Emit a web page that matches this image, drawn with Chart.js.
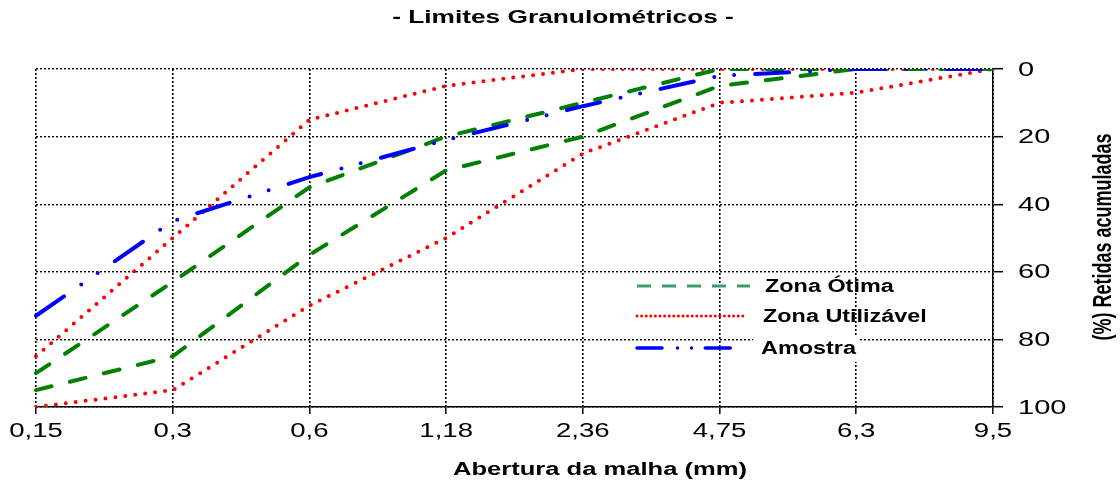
<!DOCTYPE html>
<html>
<head>
<meta charset="utf-8">
<script src="https://cdn.jsdelivr.net/npm/chart.js"></script>
<style>
  html, body { margin: 0; padding: 0; background: #fff; }
  #wrap { width: 1120px; height: 487px; }
</style>
</head>
<body>
<div id="wrap"><canvas id="chart" width="1120" height="487"></canvas></div>
<script>
// abertura das peneiras (mm)
let aberturas = ['0,15', '0,3', '0,6', '1,18', '2,36', '4,75', '6,3', '9,5']

// % retidas acumuladas
let otimaInf = [95, 85, 55, 30, 20, 5, 0, 0]
let otimaSup = [90, 63, 35, 20, 10, 0, 0, 0]
let utilInf = [100, 95, 70, 50, 25, 10, 7, 0]
let utilSup = [85, 50, 15, 5, 0, 0, 0, 0]
let amostra = [73, 45, 32, 21, 11, 2, 0, 0]

let yTicks = [0, 20, 40, 60, 80, 100]
let legendLabels = ['Zona Ótima', 'Zona Utilizável', 'Amostra']

const FONT = 'Liberation Sans, Arial, sans-serif'
const VERDE = 'rgb(0, 128, 0)'
const VERMELHO = 'rgb(255, 0, 0)'
const AZUL = 'rgb(0, 0, 255)'

// texto esticado na horizontal (a figura original foi alargada)
let txt = (ctx, s, x, y, font, align, sx) => {
	ctx.save()
	ctx.font = font
	ctx.fillStyle = '#000'
	ctx.textAlign = align
	ctx.textBaseline = 'middle'
	ctx.translate(x, y)
	ctx.scale(sx, 1)
	ctx.fillText(s, 0, 0)
	ctx.restore()
}

let swatch = (ctx, x1, x2, y, color, width, dash, cap) => {
	ctx.save()
	ctx.strokeStyle = color
	ctx.lineWidth = width
	ctx.lineCap = cap
	ctx.setLineDash(dash)
	ctx.beginPath()
	ctx.moveTo(x1, y)
	ctx.lineTo(x2, y)
	ctx.stroke()
	ctx.restore()
}

let textos = {
	id: 'textos',
	afterDraw(chart) {
		const ctx = chart.ctx
		const sx = chart.scales.x
		const sy = chart.scales.y

		// titulo
		txt(ctx, '- Limites Granulométricos -', 563, 18, 'bold 18px ' + FONT, 'center', 1.46)

		// rotulos do eixo x
		aberturas.forEach((lab, i) => {
			txt(ctx, lab, sx.getPixelForTick(i), 431, '20px ' + FONT, 'center', 1.38)
		})
		txt(ctx, 'Abertura da malha (mm)', 600, 470, 'bold 18px ' + FONT, 'center', 1.42)

		// rotulos do eixo y (a direita)
		yTicks.forEach(v => {
			txt(ctx, String(v), 1018, sy.getPixelForValue(v) + 1, '20px ' + FONT, 'left', 1.45)
		})
		ctx.save()
		ctx.font = 'bold 18px ' + FONT
		ctx.fillStyle = '#000'
		ctx.textAlign = 'center'
		ctx.textBaseline = 'middle'
		ctx.translate(1104, 237)
		ctx.rotate(-Math.PI / 2)
		ctx.scale(1, 1.4)
		ctx.fillText('(%) Retidas acumuladas', 0, 0)
		ctx.restore()

		// legenda
		swatch(ctx, 637, 750, 286, 'rgb(58, 157, 106)', 3, [14, 11], 'butt')
		swatch(ctx, 637, 745, 316, VERMELHO, 3, [0, 4.6], 'round')
		swatch(ctx, 637, 745, 348, AZUL, 3.5, [25, 15.5, 0, 14, 0, 13.75], 'round')
		txt(ctx, legendLabels[0], 765, 287, 'bold 18px ' + FONT, 'left', 1.3)
		txt(ctx, legendLabels[1], 763, 317, 'bold 18px ' + FONT, 'left', 1.3)
		ctx.save()
		ctx.fillStyle = '#fff'
		ctx.fillRect(753, 335, 106, 27)
		ctx.restore()
		txt(ctx, legendLabels[2], 761, 349, 'bold 18px ' + FONT, 'left', 1.3)
	}
}

let linha = (label, data, color, dash) => ({
	label,
	data,
	borderColor: color,
	backgroundColor: color,
	borderWidth: 4,
	borderDash: dash,
	borderCapStyle: 'round',
	pointRadius: 0,
	fill: false,
	tension: 0,
})

let datasets = [
	linha('Amostra', amostra, AZUL, [34, 21, 0, 20, 0, 21]),
	linha('Zona Ótima', otimaSup, VERDE, [16, 19]),
	linha('Zona Ótima', otimaInf, VERDE, [16, 19]),
	linha('Zona Utilizável', utilSup, VERMELHO, [0, 10]),
	linha('Zona Utilizável', utilInf, VERMELHO, [0, 10]),
]

new Chart(document.getElementById('chart'), {
	type: 'line',
	data: { labels: aberturas, datasets },
	options: {
		responsive: false,
		animation: false,
		devicePixelRatio: 1,
		layout: { padding: { left: 36, top: 69, right: 0, bottom: 0 } },
		plugins: {
			legend: { display: false },
			title: { display: false },
			tooltip: { enabled: false },
		},
		scales: {
			x: {
				type: 'category',
				offset: false,
				afterFit: s => { s.height = 80 },
				ticks: { display: false },
				grid: {
					color: '#000',
					lineWidth: 1.6,
					tickLength: 7,
					tickColor: '#000',
					tickWidth: 1.5,
					tickBorderDash: [],
				},
				border: { display: true, color: '#000', width: 1.5, dash: [2, 2] },
			},
			y: {
				type: 'linear',
				position: 'right',
				reverse: true,
				min: 0,
				max: 100,
				afterFit: s => { s.width = 127 },
				ticks: { display: false, stepSize: 20 },
				grid: {
					color: '#000',
					lineWidth: 1.4,
					tickLength: 10,
					tickColor: '#000',
					tickWidth: 1.5,
					tickBorderDash: [],
				},
				border: { display: true, color: '#000', width: 1.5, dash: [2, 2] },
			},
		},
	},
	plugins: [textos],
})
</script>
</body>
</html>
